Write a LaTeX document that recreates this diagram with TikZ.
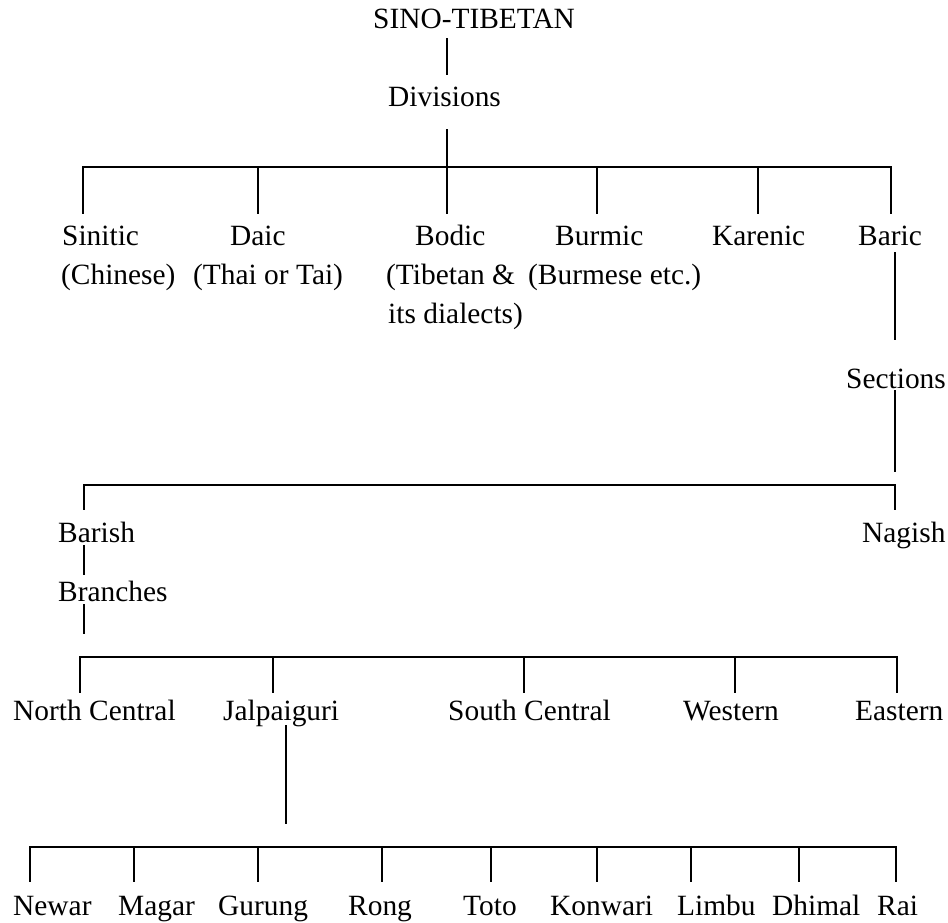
\documentclass[tikz,border=0pt]{standalone}
\usepackage{fontspec}
\setmainfont{Liberation Serif}

\begin{document}
\begin{tikzpicture}[x=1pt, y=-1pt,
    lang/.style={anchor=base west, inner sep=0pt, text height=20pt, text depth=0pt, font=\fontsize{29.4}{36}\selectfont},
    tie/.style={line width=1.5pt, line cap=butt}]

\useasboundingbox (0,0) rectangle (948,923);

% Root and divisions
\node[lang] (root) at (373,29) {SINO-TIBETAN};
\node[lang] (divisions) at (388,107) {Divisions};

% Divisions (first row)
\node[lang] (sinitic) at (62,245) {Sinitic};
\node[lang] (sinitic-b) at (61,284) {(Chinese)};
\node[lang] (daic) at (230,245) {Daic};
\node[lang] (daic-b) at (193,284) {(Thai or Tai)};
\node[lang] (bodic) at (415,245) {Bodic};
\node[lang] (bodic-b) at (386,284) {(Tibetan \&};
\node[lang] (bodic-c) at (388,323) {its dialects)};
\node[lang] (burmic) at (555,245) {Burmic};
\node[lang] (burmic-b) at (528,284) {(Burmese etc.)};
\node[lang] (karenic) at (712,245) {Karenic};
\node[lang] (baric) at (858,245) {Baric};

% Sections of Baric
\node[lang] (sections) at (846,388) {Sections};
\node[lang] (barish) at (58,542) {Barish};
\node[lang] (nagish) at (862,542) {Nagish};
\node[lang] (branches) at (58,601) {Branches};

% Branches of Barish
\node[lang] (ncentral) at (13,720) {North Central};
\node[lang] (jalpaiguri) at (223,720) {Jalpaiguri};
\node[lang] (scentral) at (448,720) {South Central};
\node[lang] (western) at (683,720) {Western};
\node[lang] (eastern) at (855,720) {Eastern};

% Jalpaiguri languages
\node[lang] (newar) at (13,915) {Newar};
\node[lang] (magar) at (118,915) {Magar};
\node[lang] (gurung) at (218,915) {Gurung};
\node[lang] (rong) at (348,915) {Rong};
\node[lang] (toto) at (463,915) {Toto};
\node[lang] (konwari) at (550,915) {Konwari};
\node[lang] (limbu) at (677,915) {Limbu};
\node[lang] (dhimal) at (772,915) {Dhimal};
\node[lang] (rai) at (877,915) {Rai};

% Junction points on the bars
\coordinate (j-div) at (447,167);
\coordinate (d-sinitic) at (83,167);
\coordinate (d-daic) at (258,167);
\coordinate (d-bodic) at (447,167);
\coordinate (d-burmic) at (597,167);
\coordinate (d-karenic) at (758,167);
\coordinate (d-baric) at (891,167);

\coordinate (d-barish) at (84,485);
\coordinate (d-nagish) at (895,485);

\coordinate (d-ncentral) at (80,657);
\coordinate (d-jalpaiguri) at (273,657);
\coordinate (d-scentral) at (524,657);
\coordinate (d-western) at (735,657);
\coordinate (d-eastern) at (897,657);

\coordinate (j-jal) at (286,847);
\coordinate (d-newar) at (30,847);
\coordinate (d-magar) at (134,847);
\coordinate (d-gurung) at (258,847);
\coordinate (d-rong) at (382,847);
\coordinate (d-toto) at (491,847);
\coordinate (d-konwari) at (597,847);
\coordinate (d-limbu) at (691,847);
\coordinate (d-dhimal) at (799,847);
\coordinate (d-rai) at (896,847);

% Connections: root to divisions
\draw[tie, shorten <=9pt, shorten >=12pt] (j-div |- root.south) -- (j-div |- divisions.north);
\draw[tie, shorten <=22pt] (j-div |- divisions.south) -- (j-div);
\draw[tie, shorten <=11pt, shorten >=11pt] (d-sinitic |- sinitic.north) -- (d-sinitic) -- (d-baric) -- (d-baric |- baric.north);
\draw[tie, shorten >=11pt] (d-daic) -- (d-daic |- daic.north);
\draw[tie, shorten >=11pt] (d-bodic) -- (d-bodic |- bodic.north);
\draw[tie, shorten >=11pt] (d-burmic) -- (d-burmic |- burmic.north);
\draw[tie, shorten >=11pt] (d-karenic) -- (d-karenic |- karenic.north);

% Baric to sections
\draw[tie, shorten <=7pt, shorten >=28pt] (d-nagish |- baric.south) -- (d-nagish |- sections.north);
\draw[tie, shorten <=2pt, shorten >=13pt] (d-nagish |- sections.south) -- (d-nagish);
\draw[tie, shorten <=12pt, shorten >=12pt] (d-barish |- barish.north) -- (d-barish) -- (d-nagish) -- (d-nagish |- nagish.north);

% Barish to branches
\draw[tie, shorten <=3pt, shorten >=6pt] (d-barish |- barish.south) -- (d-barish |- branches.north);
\draw[tie, shorten <=3pt, shorten >=23pt] (d-barish |- branches.south) -- (d-barish |- d-ncentral);
\draw[tie, shorten <=7pt, shorten >=7pt] (d-ncentral |- ncentral.north) -- (d-ncentral) -- (d-eastern) -- (d-eastern |- eastern.north);
\draw[tie, shorten >=7pt] (d-jalpaiguri) -- (d-jalpaiguri |- jalpaiguri.north);
\draw[tie, shorten >=7pt] (d-scentral) -- (d-scentral |- scentral.north);
\draw[tie, shorten >=7pt] (d-western) -- (d-western |- western.north);

% Jalpaiguri to languages
\draw[tie, shorten <=5pt, shorten >=23pt] (j-jal |- jalpaiguri.south) -- (j-jal);
\draw[tie, shorten <=13pt, shorten >=13pt] (d-newar |- newar.north) -- (d-newar) -- (d-rai) -- (d-rai |- rai.north);
\draw[tie, shorten >=13pt] (d-magar) -- (d-magar |- magar.north);
\draw[tie, shorten >=13pt] (d-gurung) -- (d-gurung |- gurung.north);
\draw[tie, shorten >=13pt] (d-rong) -- (d-rong |- rong.north);
\draw[tie, shorten >=13pt] (d-toto) -- (d-toto |- toto.north);
\draw[tie, shorten >=13pt] (d-konwari) -- (d-konwari |- konwari.north);
\draw[tie, shorten >=13pt] (d-limbu) -- (d-limbu |- limbu.north);
\draw[tie, shorten >=13pt] (d-dhimal) -- (d-dhimal |- dhimal.north);

\end{tikzpicture}
\end{document}
